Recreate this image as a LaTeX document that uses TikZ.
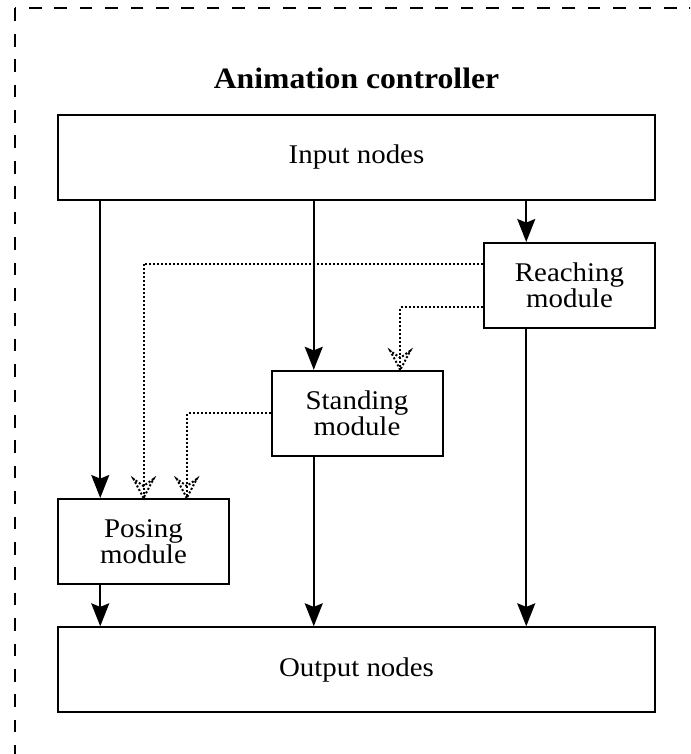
\documentclass[tikz,border=0pt]{standalone}
\usepackage{fontspec}
\setmainfont[FakeStretch=1.07]{Liberation Serif}
\usetikzlibrary{arrows.meta,calc}
\begin{document}
\begin{tikzpicture}[x=0.5pt,y=-0.5pt,
  box/.style={draw, line width=1pt, minimum width=85.5pt, minimum height=42.5pt,
    inner sep=0pt, align=center, font=\fontsize{13.5}{12.8}\selectfont},
  widebox/.style={box, minimum width=298.5pt},
  flow/.style={line width=0.9pt, -{Stealth[length=11.5pt,width=9pt,inset=1.8pt]}},
  dep/.style={line width=1pt, dash pattern=on 1pt off 1pt},
  frame/.style={line width=1pt, dash pattern=on 6.35pt off 6.35pt},
  openhead/.pic={\draw[dep] (0,0) -- (-10,-19) -- (0,-12) -- (10,-19) -- cycle;}
]
\clip (0,0) rectangle (690,754);
\draw[frame] (15,8.5) rectangle (720,790);
\node[font=\fontsize{14.8}{18}\selectfont\bfseries, anchor=base] (title) at (356.5,89) {Animation controller};

\node[widebox] (input) at (356.5,157.5) {Input nodes};
\node[widebox] (output) at (356.5,669.8) {Output nodes};
\node[box] (reach) at (569.5,285.5) {Reaching\\module};
\node[box] (stand) at (357,413.3) {Standing\\module};
\node[box] (posing) at (143.5,541.5) {Posing\\module};

\path ($(posing.north west)!0.25!(posing.north east)$) coordinate (pq)
      ($(stand.north west)!0.25!(stand.north east)$) coordinate (sq)
      ($(reach.north west)!0.25!(reach.north east)$) coordinate (rq)
      ($(stand.north west)!0.75!(stand.north east)$) coordinate (s3)
      ($(posing.north west)!0.75!(posing.north east)$) coordinate (p3)
      ($(reach.north west)!0.25!(reach.south west)$) coordinate (r1)
      ($(reach.north west)!0.75!(reach.south west)$) coordinate (r3);

\draw[flow] (input.south -| pq) -- (pq);
\draw[flow] (input.south -| sq) -- (sq);
\draw[flow] (input.south -| rq) -- (rq);
\draw[flow] (posing.south -| pq) -- (output.north -| pq);
\draw[flow] (stand.south -| sq) -- (output.north -| sq);
\draw[flow] (reach.south -| rq) -- (output.north -| rq);

\draw[dep] (r1) -| (posing.north);
\draw[dep] (r3) -| (s3);
\draw[dep] (stand.west) -| (p3);
\pic at (posing.north) {openhead};
\pic at (s3) {openhead};
\pic at (p3) {openhead};
\end{tikzpicture}
\end{document}
